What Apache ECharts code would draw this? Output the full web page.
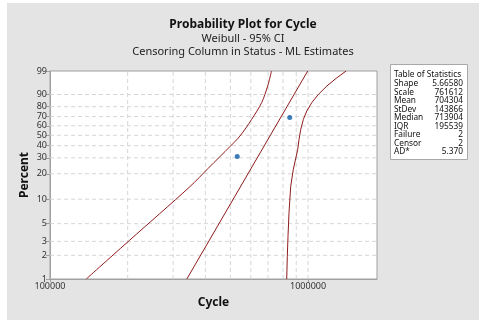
<!DOCTYPE html>
<html>
<head>
<meta charset="utf-8">
<script src="https://cdn.jsdelivr.net/npm/echarts@6/dist/echarts.min.js"></script>
<style>html,body{margin:0;padding:0;background:#fff;}#c{width:486px;height:326px;}</style>
</head>
<body>
<div id="c"></div>
<script>
// ---- data ----
const percentTicks = [1, 2, 3, 5, 10, 20, 30, 40, 50, 60, 70, 80, 90, 99];
const cycleLabelTicks = [100000, 1000000];
const cycleGridValues = [200000, 300000, 400000, 500000, 600000, 700000, 800000, 900000, 1000000];

const failureCycle = [531500, 849000];
const failurePct = [31, 69];

const fitCycle = [339000, 997000];
const fitPct = [1, 99];

const lowerCycle = [138200, 203500, 348000, 410000, 455000, 500000, 544500, 604400, 661000, 697600, 721800];
const lowerPct = [1, 3.1, 14.1, 23.0, 30.8, 39.5, 49.2, 66.9, 83.7, 94.8, 99];

const upperCycle = [826600, 831000, 836200, 843700, 856600, 876800, 912000, 922600, 936900, 958700, 988500, 1033700, 1096500, 1182000, 1293000, 1405000];
const upperPct = [1, 1.94, 3.47, 6.81, 14.3, 22.4, 36.7, 45.9, 56.1, 66.9, 75.7, 83.7, 90.1, 94.8, 97.7, 99];

const statLabels = ['Shape', 'Scale', 'Mean', 'StDev', 'Median', 'IQR', 'Failure', 'Censor', 'AD*'];
const statValues = ['5.66580', '761612', '704304', '143866', '713904', '195539', '2', '2', '5.370'];

const titleText = 'Probability Plot for Cycle';
const subText1 = 'Weibull - 95% CI';
const subText2 = 'Censoring Column in Status - ML Estimates';

// ---- Weibull probability scale transform ----
const wb = p => Math.log(-Math.log(1 - p / 100));
const pair = (xs, ps) => xs.map((x, i) => [x, wb(ps[i])]);

const FONT = 'Noto Sans';
const curveColor = '#8e1c1c';
const gridLineStyle = { color: '#d6d6d6', type: [4, 3], width: 1 };
const X_MIN = 100000, X_MAX = 1850000;

const chart = echarts.init(document.getElementById('c'), null, { renderer: 'canvas' });

const graphics = [
  { type: 'rect', shape: { x: 0, y: 0, width: 486, height: 3 }, style: { fill: '#fff' } },
  { type: 'rect', shape: { x: 0, y: 0, width: 7, height: 326 }, style: { fill: '#fff' } },
  { type: 'rect', shape: { x: 479, y: 0, width: 7, height: 326 }, style: { fill: '#fff' } },
  { type: 'rect', shape: { x: 0, y: 320, width: 486, height: 6 }, style: { fill: '#fff' } },
  { type: 'text', x: 243, y: 25, style: { text: titleText, font: 'bold 12px "' + FONT + '"', fill: '#111', textAlign: 'center', textVerticalAlign: 'middle' } },
  { type: 'text', x: 243, y: 39, style: { text: subText1, font: '11px "' + FONT + '"', fill: '#222', textAlign: 'center', textVerticalAlign: 'middle' } },
  { type: 'text', x: 243, y: 52, style: { text: subText2, font: '11px "' + FONT + '"', fill: '#222', textAlign: 'center', textVerticalAlign: 'middle' } },
  { type: 'rect', shape: { x: 390.5, y: 64.5, width: 77, height: 95 }, style: { fill: '#fff', stroke: '#a8a8a8', lineWidth: 1 } },
  { type: 'text', x: 394, y: 75, style: { text: 'Table of Statistics', font: '8.3px "' + FONT + '"', fill: '#111', textVerticalAlign: 'middle' } }
];
statLabels.forEach((lab, i) => {
  const y = 84 + i * 8.45;
  graphics.push({ type: 'text', x: 394, y: y, style: { text: lab, font: '8.3px "' + FONT + '"', fill: '#111', textVerticalAlign: 'middle' } });
  graphics.push({ type: 'text', x: 463, y: y, style: { text: statValues[i], font: '8.3px "' + FONT + '"', fill: '#111', textAlign: 'right', textVerticalAlign: 'middle' } });
});

const gridSeries = [];
cycleGridValues.forEach(v => {
  gridSeries.push({ type: 'line', silent: true, showSymbol: false, data: [[v, wb(1)], [v, wb(99)]], lineStyle: gridLineStyle, z: 1 });
});
percentTicks.slice(1, -1).forEach(p => {
  gridSeries.push({ type: 'line', silent: true, showSymbol: false, data: [[X_MIN * 1.0005, wb(p)], [X_MAX * 0.9995, wb(p)]], lineStyle: gridLineStyle, z: 1 });
});

const option = {
  backgroundColor: '#e4e4e4',
  animation: false,
  graphic: graphics,
  grid: { left: 50, top: 71, width: 327, height: 208, show: true, backgroundColor: '#ffffff', borderColor: '#a0a0a0', borderWidth: 1 },
  xAxis: {
    type: 'log', logBase: 10, min: X_MIN, max: X_MAX,
    name: 'Cycle', nameLocation: 'middle', nameGap: 18, nameMoveOverlap: false,
    nameTextStyle: { fontFamily: FONT, fontWeight: 'bold', fontSize: 12, color: '#111' },
    axisLine: { show: true, onZero: false, lineStyle: { color: '#a0a0a0' } },
    axisTick: { show: true, length: 3, lineStyle: { color: '#a0a0a0' }, customValues: cycleLabelTicks },
    axisLabel: { fontFamily: FONT, fontSize: 9, color: '#333', margin: 3, customValues: cycleLabelTicks, formatter: v => String(Math.round(v)) },
    splitLine: { show: false }, minorTick: { show: false }
  },
  yAxis: {
    type: 'value', min: wb(1), max: wb(99),
    name: 'Percent', nameLocation: 'middle', nameGap: 19, nameRotate: 90, nameMoveOverlap: false,
    nameTextStyle: { fontFamily: FONT, fontWeight: 'bold', fontSize: 12, color: '#111' },
    axisLine: { show: true, onZero: false, lineStyle: { color: '#a0a0a0' } },
    axisTick: { show: true, length: 4, lineStyle: { color: '#a0a0a0' }, customValues: percentTicks.map(wb) },
    axisLabel: { fontFamily: FONT, fontSize: 9, color: '#333', margin: 3, customValues: percentTicks.map(wb),
      formatter: v => String(Math.round(100 * (1 - Math.exp(-Math.exp(v))))) },
    splitLine: { show: false }
  },
  series: gridSeries.concat([
    { type: 'line', data: pair(lowerCycle, lowerPct), showSymbol: false, smooth: 0.3, lineStyle: { color: curveColor, width: 1 }, z: 3 },
    { type: 'line', data: pair(fitCycle, fitPct), showSymbol: false, lineStyle: { color: curveColor, width: 1 }, z: 3 },
    { type: 'line', data: pair(upperCycle, upperPct), showSymbol: false, smooth: false, lineStyle: { color: curveColor, width: 1 }, z: 3 },
    { type: 'scatter', data: pair(failureCycle, failurePct), symbolSize: 5, itemStyle: { color: '#0b5aa6' }, z: 4 }
  ])
};
chart.setOption(option);
</script>
</body>
</html>
